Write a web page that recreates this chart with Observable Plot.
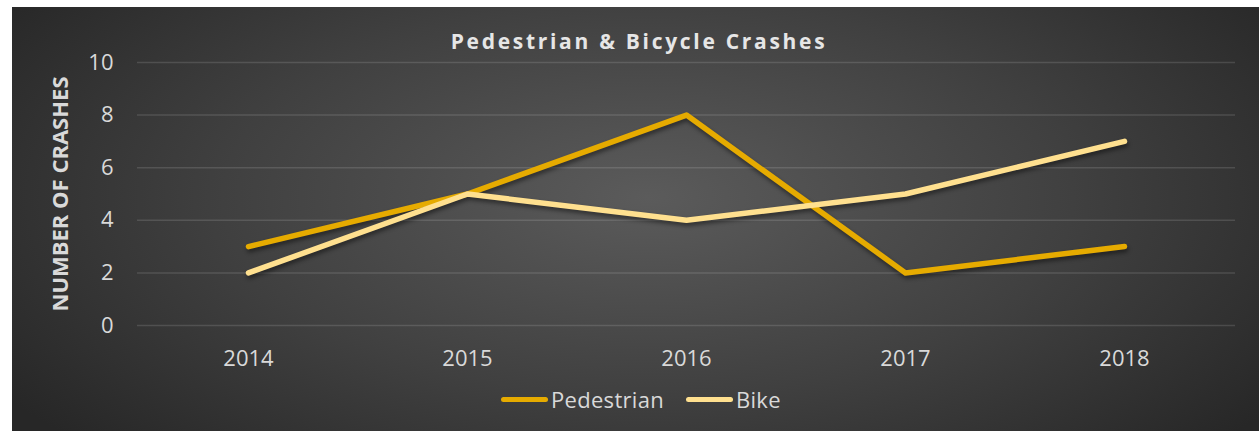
<!DOCTYPE html>
<html>
<head>
<meta charset="utf-8">
<script src="https://cdn.jsdelivr.net/npm/d3@7"></script>
<script src="https://cdn.jsdelivr.net/npm/@observablehq/plot@0.6"></script>
<style>
  html, body { margin: 0; padding: 0; background: #ffffff; }
  #wrap { position: relative; width: 1259px; height: 431px; overflow: hidden; font-family: "Open Sans", Lato, sans-serif; }
  #panel { position: absolute; left: 12px; top: 7px; width: 1247px; height: 424px;
    background: radial-gradient(ellipse 62% 85% at 51% 45%, #5b5b5b 0%, #404040 55%, #272727 100%); }
  #chart { position: absolute; left: 0; top: 0; }
  #title { position: absolute; left: 0; width: 1278px; top: 27px; text-align: center;
    color: #e6e6e6; font-weight: 700; font-size: 21px; letter-spacing: 2.7px; line-height: 28px; }
  #legend { position: absolute; top: 386px; left: 0; width: 1259px; height: 26px; }
  .item { position: absolute; top: 0; display: flex; align-items: center; height: 26px; color: #d9d9d9; font-size: 22px; letter-spacing: 0.3px; }
  .sw { width: 47px; height: 5px; border-radius: 3px; margin-right: 3px; }
  svg g[aria-label="line"] { filter: drop-shadow(1px 3px 2px rgba(0,0,0,0.45)); }
</style>
</head>
<body>
<div id="wrap">
  <div id="panel"></div>
  <div id="chart"></div>
  <div id="title">Pedestrian &amp; Bicycle Crashes</div>
  <div id="legend"></div>
</div>
<script>
const years = ["2014", "2015", "2016", "2017", "2018"];
const pedestrian = [3, 5, 8, 2, 3];
const bike = [2, 5, 4, 5, 7];
const seriesNames = ["Pedestrian", "Bike"];
const seriesColors = ["#e6ab00", "#ffe08f"];
const yTicks = [0, 2, 4, 6, 8, 10];
const yLabel = "NUMBER OF CRASHES";

const rows = [];
years.forEach((y, i) => {
  rows.push({year: y, value: pedestrian[i], series: seriesNames[0]});
  rows.push({year: y, value: bike[i], series: seriesNames[1]});
});

const plot = Plot.plot({
  width: 1259,
  height: 431,
  marginLeft: 137,
  marginRight: 24,
  marginTop: 62,
  marginBottom: 106,
  style: { background: "transparent", fontFamily: "'Open Sans', Lato, sans-serif", color: "#d9d9d9" },
  x: { domain: years, type: "point", padding: 0.5 },
  y: { domain: [0, 10] },
  color: { domain: seriesNames, range: seriesColors },
  marks: [
    Plot.gridY(yTicks, { stroke: "#ffffff", strokeOpacity: 0.13, strokeWidth: 1.5 }),
    Plot.axisY(yTicks, { tickSize: 0, tickPadding: 24, fontSize: 22, fill: "#d9d9d9", label: null }),
    Plot.axisX(years, { tickSize: 0, tickPadding: 25, fontSize: 22, fill: "#d9d9d9", label: null }),
    Plot.text([yLabel], { frameAnchor: "left", textAnchor: "middle", rotate: -90, dx: -77, fontSize: 22, fontWeight: "bold", fill: "#d9d9d9" }),
    Plot.line(rows, { x: "year", y: "value", z: "series", stroke: "series", strokeWidth: 5.5, strokeLinecap: "round", strokeLinejoin: "round" })
  ]
});
document.getElementById("chart").appendChild(plot);

const legend = document.getElementById("legend");
const positions = [501, 686];
seriesNames.forEach((name, i) => {
  const item = document.createElement("div");
  item.className = "item";
  item.style.left = positions[i] + "px";
  const sw = document.createElement("div");
  sw.className = "sw";
  sw.style.background = seriesColors[i];
  const t = document.createElement("span");
  t.textContent = name;
  item.appendChild(sw);
  item.appendChild(t);
  legend.appendChild(item);
});
</script>
</body>
</html>
